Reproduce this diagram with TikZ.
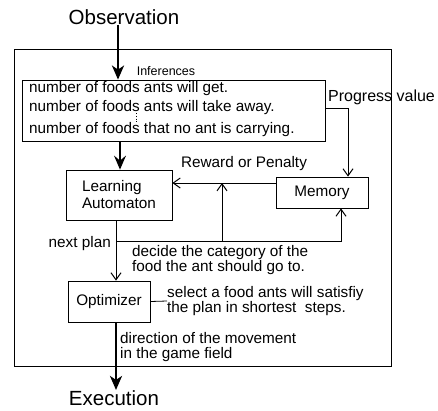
\documentclass[tikz,border=0pt]{standalone}
\usepackage{fontspec}
\setmainfont{Liberation Sans}
\usetikzlibrary{arrows.meta,calc}
\begin{document}
\begin{tikzpicture}[x=1pt,y=-1pt,
  txt/.style={font=\fontsize{15.3}{15.8}\selectfont,inner sep=0pt,align=left},
  box/.style={draw,line width=0.8pt,inner sep=0pt,font=\fontsize{15.3}{17}\selectfont,align=left},
  bigarrow/.style={line width=2.6pt,-{Stealth[length=14pt,width=12pt,inset=4pt]}},
  medarrow/.style={line width=1.4pt,-{Stealth[length=14pt,width=12pt,inset=5pt]}},
  thinarrow/.style={line width=0.8pt,-{Straight Barb[length=7pt,width=10pt,line width=1pt]}},
  thinline/.style={line width=0.8pt}]
\useasboundingbox (0,0) rectangle (438,410);
% outer frame
\draw[thinline] (14,49) rectangle (391,366);
% boxes
\node[box,minimum width=303pt,minimum height=61pt] (inf) at (173.5,110.5) {};
\node[box,minimum width=106pt,minimum height=50pt] (la) at (119,195) {Learning\\Automaton};
\node[box,minimum width=92pt,minimum height=31pt] (mem) at (322,192.5) {Memory};
\node[box,minimum width=82pt,minimum height=41pt] (opt) at (109,301.5) {Optimizer};
% big labels
\node[font=\fontsize{20.5}{22}\selectfont,inner sep=0pt] (obs) at (124,17) {Observation};
\node[font=\fontsize{20.5}{22}\selectfont,inner sep=0pt,anchor=base] (exe) at (114,405) {Execution};
% inference texts
\node[font=\fontsize{12.5}{14}\selectfont,inner sep=0pt] (inflab) at (166,71) {Inferences};
\node[txt,anchor=base west] (l1) at (29,92) {number of foods ants will get.};
\node[txt,anchor=base west] (l2) at (29,111) {number of foods ants will take away.};
\node[txt,anchor=base west] (l3) at (29,133) {number of foods that no ant is carrying.};
\draw[dotted,line width=0.8pt] (136,113) -- (136,122);
% other labels
\node[txt,anchor=west,font=\fontsize{16}{17}\selectfont] (pvlab) at (328,97) {Progress value};
\node[txt] (rwlab) at (244,164) {Reward or Penalty};
\node[txt,anchor=east] (nplab) at (111,244) {next plan};
\node[txt,anchor=west] (dec) at (132,260) {decide the category of the\\food the ant should go to.};
\node[txt,anchor=west] (sel) at (167,301) {select a food ants will satisfiy\\the plan in shortest\ \ steps.};
\node[txt,anchor=west] (dir) at (120,347) {direction of the movement\\in the game field};
% coordinates
\coordinate (col) at (116,0);
\coordinate (pv) at (348,108);
\coordinate (rw) at (222,183);
\coordinate (np) at (116,241);
\coordinate (rb) at (222,241);
\coordinate (nb) at (341,241);
% connectors
\draw[bigarrow] ([xshift=-6pt]obs.south) -- ([xshift=-6pt]obs.south |- inf.north);
\draw[medarrow] ([xshift=1pt]la.north |- inf.south) -- ([xshift=1pt]la.north);
\draw[thinarrow] (inf.east |- pv) -- (pv) -- (pv |- mem.north);
\draw[thinarrow] (mem.west |- rw) -- (la.east |- rw);
\draw[thinarrow] (la.south -| col) -- (opt.north -| col);
\draw[thinarrow] (np) -- (nb) -- (nb |- mem.south);
\draw[thinarrow] (rb) -- (rw);
\draw[thinline] (opt.east) -- (sel.west);
\draw[bigarrow] (opt.south -| col) -- (exe.north -| col);
\end{tikzpicture}
\end{document}
